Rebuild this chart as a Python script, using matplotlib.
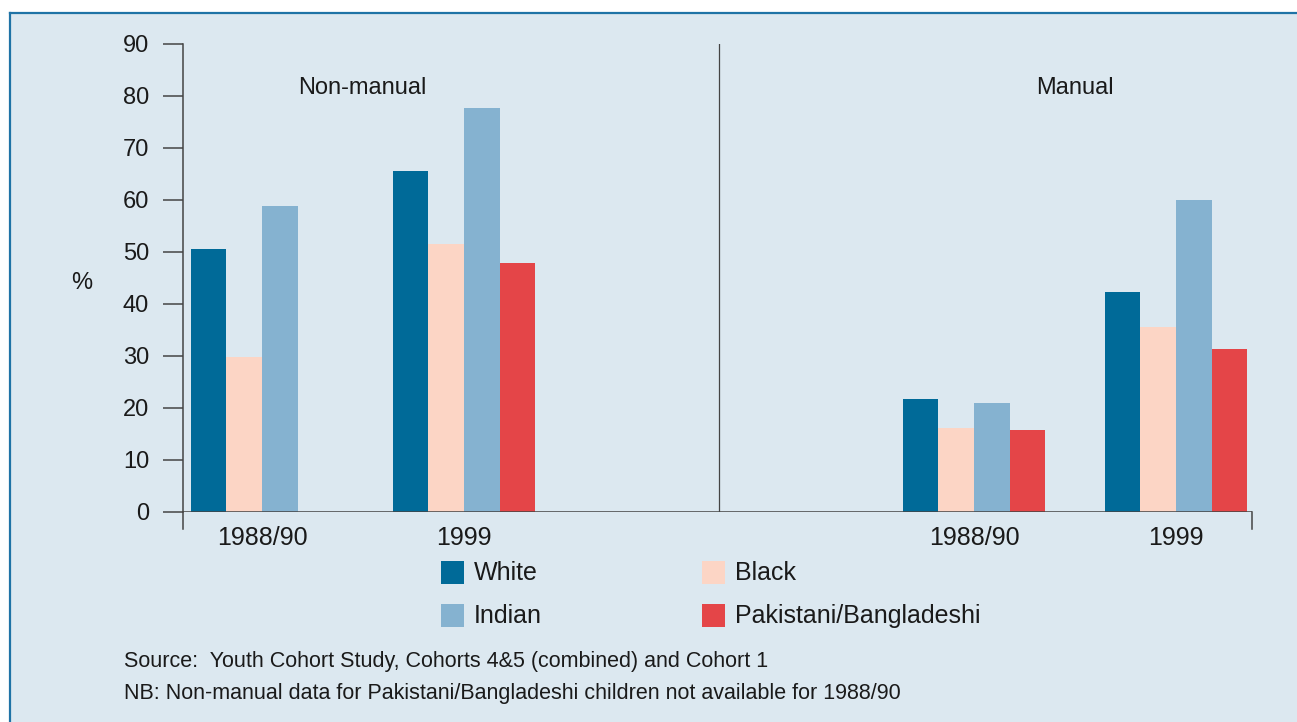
import matplotlib
matplotlib.use("Agg")
import matplotlib.pyplot as plt
from matplotlib.patches import Rectangle
import numpy as np

# data
groups = ["1988/90", "1999", "1988/90", "1999"]
panels = ["Non-manual", "Manual"]
series = ["White", "Black", "Indian", "Pakistani/Bangladeshi"]
white = [50.6, 65.6, 21.7, 42.3]
black = [29.8, 51.6, 16.2, 35.6]
indian = [58.8, 77.7, 21.0, 60.0]
pakistani = [np.nan, 47.9, 15.8, 31.3]
yticks = [0, 10, 20, 30, 40, 50, 60, 70, 80, 90]
source_note = "Source:  Youth Cohort Study, Cohorts 4&5 (combined) and Cohort 1"
nb_note = "NB: Non-manual data for Pakistani/Bangladeshi children not available for 1988/90"

colors = ["#006a98", "#fcd5c5", "#85b2d0", "#e44548"]
bg = "#dce8f0"
ink = "#1a1a1a"
axis_col = "#444444"

plt.rcParams["font.family"] = ["Liberation Sans", "DejaVu Sans"]

W, H = 1297, 722
fig = plt.figure(figsize=(W / 100, H / 100), dpi=100, facecolor="white")

# panel background and frame
fig.add_artist(Rectangle((10 / W, 0), 1 - 10 / W, (H - 13) / H, transform=fig.transFigure,
                         facecolor=bg, edgecolor="none", zorder=0))
fig.add_artist(plt.Line2D([10 / W, 1], [(H - 13) / H] * 2, transform=fig.transFigure,
                          color="#1f73a6", linewidth=1.6))
fig.add_artist(plt.Line2D([10 / W] * 2, [0, (H - 13) / H], transform=fig.transFigure,
                          color="#1f73a6", linewidth=1.6))

ax = fig.add_axes([183 / W, (H - 512) / H, (1252 - 183) / W, (512 - 44) / H])
ax.set_facecolor("none")

# group centres: two groups per panel, wider gap between panels
centres = np.array([0.0, 1.0, 3.525, 4.525])
bar_w = 0.176
all_series = [white, black, indian, pakistani]
for i, (vals, col) in enumerate(zip(all_series, colors)):
    ax.bar(centres + (i - 1.5) * bar_w, vals, width=bar_w, color=col, linewidth=0, zorder=2)

ax.set_xlim(-0.391, 4.901)
ax.set_ylim(0, 90)

for side in ["top", "right", "bottom"]:
    ax.spines[side].set_visible(False)
ax.spines["left"].set_color(axis_col)
ax.spines["left"].set_linewidth(1.1)

ax.set_yticks(yticks)
ax.tick_params(axis="y", direction="out", length=14.4, width=1.1, color=axis_col,
               pad=10, labelsize=17, labelcolor=ink)
ax.set_xticks(centres)
ax.set_xticklabels(groups)
ax.tick_params(axis="x", length=0, pad=10, labelsize=18, labelcolor=ink)

# baseline, end brackets and panel divider
ax.axhline(0, color=axis_col, linewidth=1.1, zorder=3)
ax.plot([-0.391, -0.391], [0, -3.3], color=axis_col, linewidth=1.1, clip_on=False)
ax.plot([4.901, 4.901], [0, -3.3], color=axis_col, linewidth=1.1, clip_on=False)
ax.plot([2.262, 2.262], [0, 90], color=axis_col, linewidth=0.9, zorder=3)

ax.text(0.495, 81.5, panels[0], ha="center", va="center", fontsize=17, color=ink)
ax.text(4.025, 81.5, panels[1], ha="center", va="center", fontsize=17, color=ink)

fig.text(82 / W, 1 - 283 / H, "%", ha="center", va="center", fontsize=17, color=ink)

# legend
legend_pos = [(441, 561), (702, 561), (441, 604), (702, 604)]
for (lx, ly), idx in zip(legend_pos, range(len(series))):
    fig.add_artist(Rectangle((lx / W, 1 - (ly + 23) / H), 23 / W, 23 / H, transform=fig.transFigure,
                             facecolor=colors[idx], edgecolor="none"))
    fig.text((lx + 33) / W, 1 - (ly + 12) / H, series[idx], ha="left", va="center",
             fontsize=18, color=ink)

fig.text(124 / W, 1 - 661 / H, source_note, ha="left", va="center", fontsize=15.5, color=ink)
fig.text(124 / W, 1 - 694 / H, nb_note, ha="left", va="center", fontsize=15.5, color=ink)

fig.savefig("out.png", dpi=100, facecolor="white")
